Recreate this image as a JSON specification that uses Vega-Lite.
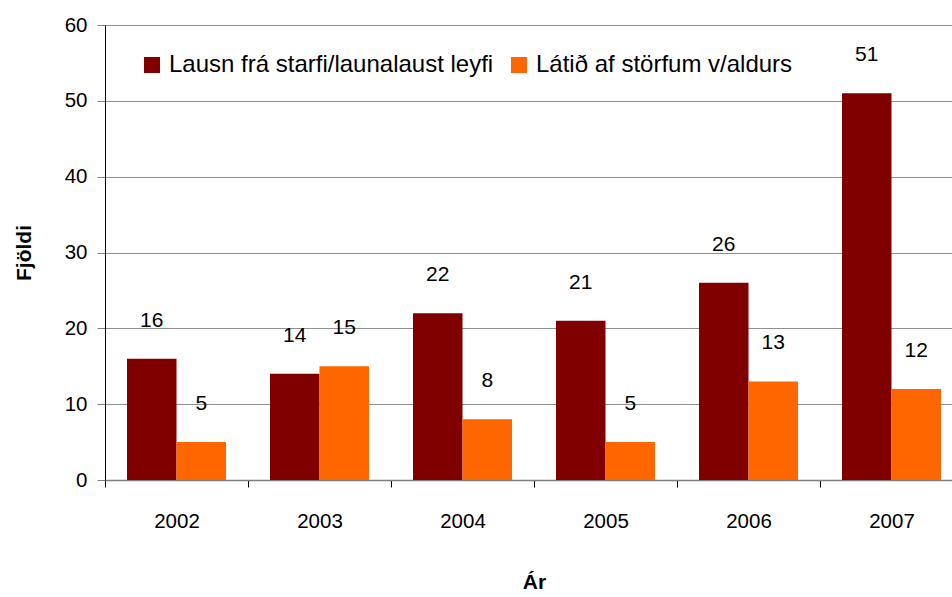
{
  "$schema": "https://vega.github.io/schema/vega-lite/v6.json",
  "autosize": "none",
  "width": 847,
  "height": 455,
  "padding": {"left": 105, "top": 25, "right": 0, "bottom": 117},
  "background": "white",
  "config": {
    "view": {"stroke": null},
    "font": "Liberation Sans",
    "axis": {"labelFont": "Liberation Sans", "titleFont": "Liberation Sans", "labelColor": "black", "titleColor": "black"}
  },
  "data": {
    "values": [
      {"year": "2002", "series": "Lausn frá starfi/launalaust leyfi", "value": 16},
      {"year": "2002", "series": "Látið af störfum v/aldurs", "value": 5},
      {"year": "2003", "series": "Lausn frá starfi/launalaust leyfi", "value": 14},
      {"year": "2003", "series": "Látið af störfum v/aldurs", "value": 15},
      {"year": "2004", "series": "Lausn frá starfi/launalaust leyfi", "value": 22},
      {"year": "2004", "series": "Látið af störfum v/aldurs", "value": 8},
      {"year": "2005", "series": "Lausn frá starfi/launalaust leyfi", "value": 21},
      {"year": "2005", "series": "Látið af störfum v/aldurs", "value": 5},
      {"year": "2006", "series": "Lausn frá starfi/launalaust leyfi", "value": 26},
      {"year": "2006", "series": "Látið af störfum v/aldurs", "value": 13},
      {"year": "2007", "series": "Lausn frá starfi/launalaust leyfi", "value": 51},
      {"year": "2007", "series": "Látið af störfum v/aldurs", "value": 12}
    ]
  },
  "encoding": {
    "x": {
      "field": "year", "type": "nominal",
      "scale": {"range": [0, 858], "paddingInner": 0, "paddingOuter": 0},
      "axis": {
        "title": "Ár", "titleFontSize": 21, "titleFontWeight": "bold", "titlePadding": 40,
        "labelAngle": 0, "labelFontSize": 20.5, "labelPadding": 24,
        "tickBand": "extent", "tickSize": 7, "tickColor": "black",
        "domainColor": "#808080", "domainWidth": 1.5, "grid": false
      }
    },
    "xOffset": {
      "field": "series", "type": "nominal",
      "sort": ["Lausn frá starfi/launalaust leyfi", "Látið af störfum v/aldurs"],
      "scale": {"paddingInner": 0, "paddingOuter": 0.444}
    },
    "y": {
      "field": "value", "type": "quantitative",
      "scale": {"domain": [0, 60], "nice": false},
      "axis": {
        "title": "Fjöldi", "titleFontSize": 21, "titleFontWeight": "bold", "titlePadding": 30,
        "values": [0, 10, 20, 30, 40, 50, 60],
        "labelFontSize": 20.5, "labelPadding": 10, "tickSize": 8, "tickColor": "#808080",
        "domainColor": "black", "grid": true, "gridColor": "#909090", "gridWidth": 1
      }
    }
  },
  "layer": [
    {
      "mark": {"type": "bar", "clip": false},
      "encoding": {
        "color": {
          "field": "series", "type": "nominal",
          "sort": ["Lausn frá starfi/launalaust leyfi", "Látið af störfum v/aldurs"],
          "scale": {"domain": ["Lausn frá starfi/launalaust leyfi", "Látið af störfum v/aldurs"], "range": ["#800000", "#FF6600"]},
          "legend": {
            "title": null, "orient": "none", "direction": "horizontal",
            "legendX": 35, "legendY": 28,
            "symbolType": "square", "symbolSize": 256, "symbolStrokeWidth": 0, "symbolOpacity": 1,
            "labelFontSize": 24, "labelFont": "Liberation Sans", "labelColor": "black", "labelOffset": 5,
            "labelLimit": 0, "columnPadding": 13, "padding": 0
          }
        }
      }
    },
    {
      "mark": {"type": "text", "dy": -38, "baseline": "middle", "fontSize": 21, "color": "black", "clip": false},
      "encoding": {"text": {"field": "value", "type": "quantitative"}}
    }
  ]
}
